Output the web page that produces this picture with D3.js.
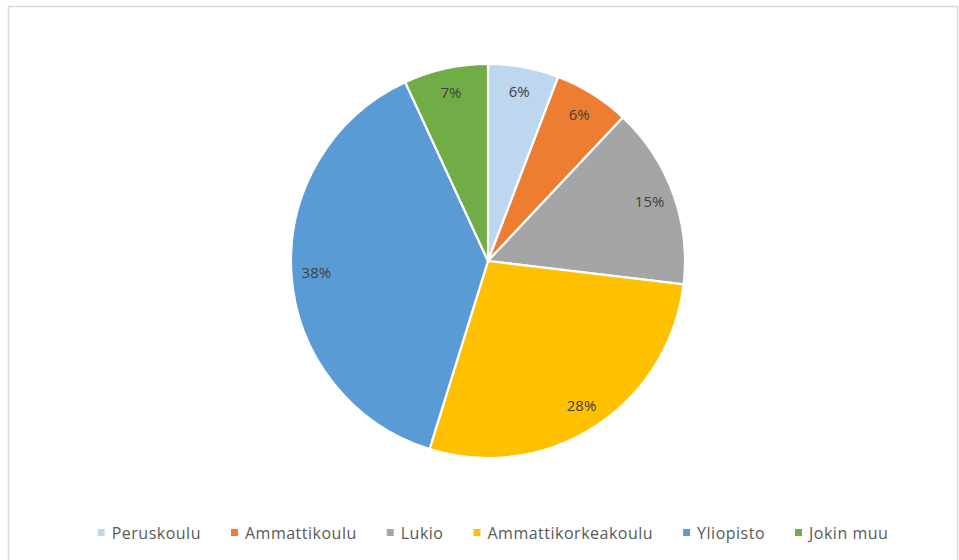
<!DOCTYPE html>
<html>
<head>
<meta charset="utf-8">
<script src="https://cdn.jsdelivr.net/npm/d3@7"></script>
<style>
  body { margin: 0; background: #fff; }
  svg { display: block; font-family: "Open Sans", "Noto Sans", sans-serif; }
</style>
</head>
<body>
<div id="chart"></div>
<script>
// koulutus data (percent shares)
var categories = ['Peruskoulu', 'Ammattikoulu', 'Lukio', 'Ammattikorkeakoulu', 'Yliopisto', 'Jokin muu'];
var values = [5.8, 6.2, 14.9, 27.9, 38.3, 6.9];
var labels = ['6%', '6%', '15%', '28%', '38%', '7%'];
var colors = ['#BDD7EE', '#ED7D31', '#A5A5A5', '#FFC000', '#5B9BD5', '#70AD47'];

var w = 959, h = 560;
var cx = 488, cy = 261, r = 197;

var svg = d3.select('#chart').append('svg').attr('width', w).attr('height', h);

// chart area border
svg.append('rect')
  .attr('x', 8.5).attr('y', 6.5).attr('width', 949).attr('height', 560)
  .attr('fill', 'none').attr('stroke', '#d9d9d9').attr('stroke-width', 1.5);

var data = categories.map(function (c, i) { return { name: c, value: values[i], label: labels[i], color: colors[i] }; });

var pie = d3.pie().sort(null).value(function (d) { return d.value; });
var arc = d3.arc().innerRadius(0).outerRadius(r);
var labelArc = d3.arc().innerRadius(172).outerRadius(172);

var g = svg.append('g').attr('transform', 'translate(' + cx + ',' + cy + ')');
var arcs = pie(data);

g.selectAll('path').data(arcs).enter()
  .append('path')
  .attr('d', arc)
  .attr('fill', function (d) { return d.data.color; })
  .attr('stroke', '#fff')
  .attr('stroke-width', 2.2)
  .attr('stroke-linejoin', 'round');

g.selectAll('text').data(arcs).enter()
  .append('text')
  .attr('transform', function (d) { var p = labelArc.centroid(d); return 'translate(' + p[0] + ',' + p[1] + ')'; })
  .attr('text-anchor', 'middle')
  .attr('dy', '0.35em')
  .attr('fill', '#404040')
  .attr('font-size', '15px')
  .text(function (d) { return d.data.label; });

// legend
var legend = svg.append('g');
var items = legend.selectAll('g').data(data).enter().append('g');
items.append('rect').attr('width', 7).attr('height', 7).attr('y', -4).attr('fill', function (d) { return d.color; });
items.append('text').attr('x', 14).attr('dy', '0.35em').attr('font-size', '16px').attr('letter-spacing', '0.5px').attr('fill', '#595959')
  .text(function (d) { return d.name; });

var x = 0, gap = 30;
items.each(function () {
  var t = d3.select(this).select('text').node().getComputedTextLength();
  d3.select(this).attr('transform', 'translate(' + x + ',0)');
  x += 14 + t + gap;
});
var total = x - gap;
legend.attr('transform', 'translate(' + (493 - total / 2) + ',533)');
</script>
</body>
</html>
